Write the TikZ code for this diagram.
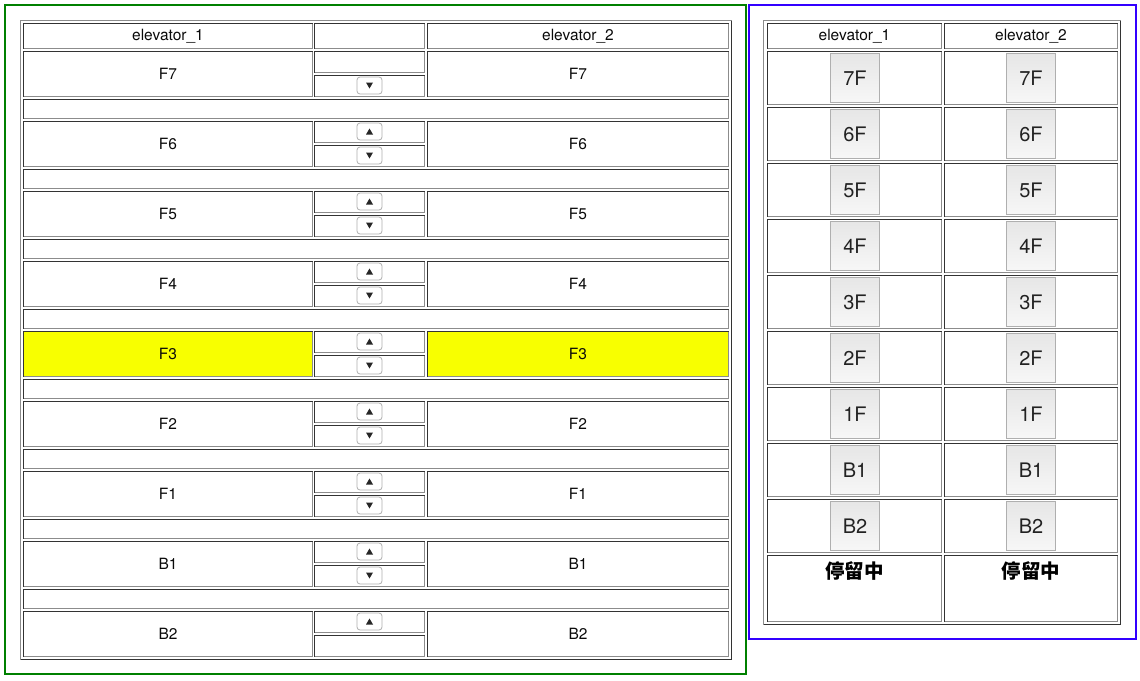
\documentclass[tikz,border=0pt]{standalone}
\usepackage{fontspec}
\setmainfont{TeX Gyre Heros}
\newfontfamily\cjk{Noto Sans CJK SC}
\definecolor{greenbox}{RGB}{0,128,0}
\definecolor{bluebox}{RGB}{51,0,255}
\definecolor{hl}{RGB}{248,255,0}
\definecolor{cdark}{RGB}{51,51,51}
\definecolor{clight}{RGB}{140,140,140}
\definecolor{btnborder}{RGB}{175,175,175}
\definecolor{btntop}{RGB}{230,230,230}
\definecolor{btnbot}{RGB}{247,247,247}
\definecolor{txt}{RGB}{10,10,10}
\tikzset{
  lbl/.style={inner sep=0pt, text=txt, font=\fontsize{15.5}{18}\selectfont},
  btnlbl/.style={inner sep=0pt, text=txt!90!white, font=\fontsize{20}{22}\selectfont},
  stat/.style={inner sep=0pt, text=black, font=\cjk\bfseries\fontsize{19.5}{22}\selectfont},
  smallbtn/.style={draw=btnborder, fill=white, line width=0.8pt, rounded corners=3pt},
  bigbtn/.style={draw=btnborder, line width=1pt, top color=btntop, bottom color=btnbot},
  tri/.style={fill=black!85},
}
% cell with inset border: x1 y1 x2 y2 fill
\newcommand\cellrect[5]{%
  \fill[#5] (#1,#2) rectangle (#3,#4);
  \draw[cdark, line width=1pt] (#1,#4) -- (#1,#2) -- (#3,#2);
  \draw[clight, line width=1pt] (#3,#2) -- (#3,#4) -- (#1,#4);
}
% table with outset border
\newcommand\tablerect[4]{%
  \draw[clight, line width=1pt] (#1,#4) -- (#1,#2) -- (#3,#2);
  \draw[cdark, line width=1pt] (#3,#2) -- (#3,#4) -- (#1,#4);
}
% small up/down buttons: center x, top y, bottom y
\newcommand\upbtn[3]{%
  \draw[smallbtn] ({#1-12.5},#2) rectangle ({#1+12.5},#3);
  \fill[tri] ({#1-3.5},{(#2+#3)/2+3}) -- ({#1+3.5},{(#2+#3)/2+3}) -- (#1,{(#2+#3)/2-3}) -- cycle;
}
\newcommand\downbtn[3]{%
  \draw[smallbtn] ({#1-12.5},#2) rectangle ({#1+12.5},#3);
  \fill[tri] ({#1-3.5},{(#2+#3)/2-3}) -- ({#1+3.5},{(#2+#3)/2-3}) -- (#1,{(#2+#3)/2+3}) -- cycle;
}
\begin{document}
\begin{tikzpicture}[x=1pt,y=-1pt]
\useasboundingbox[fill=white] (0,0) rectangle (1140,680);

% frames
\draw[greenbox, line width=2pt] (5,5) rectangle (746,674);
\draw[bluebox, line width=2pt] (749,5) rectangle (1136,639);

% ================= left table =================
\tablerect{20.5}{20.5}{731.5}{659.5}
\cellrect{23.5}{23.5}{312.5}{48.5}{white}
\cellrect{314.5}{23.5}{424.5}{48.5}{white}
\cellrect{427.5}{23.5}{728.5}{48.5}{white}
\node[lbl] (lh1) at (168,36) {elevator\_1};
\node[lbl] (lh3) at (578,36) {elevator\_2};

\foreach \lab [count=\n from 0] in {F7,F6,F5,F4,F3,F2,F1,B1,B2} {
  \pgfmathsetmacro\t{51.5+70*\n}
  \pgfmathsetmacro\b{\t+45}
  \pgfmathsetmacro\m{\t+22.5}
  \pgfmathsetmacro\sa{\t+21}
  \pgfmathsetmacro\sb{\t+24}
  \ifnum\n=4 \def\fc{hl}\else\def\fc{white}\fi
  \cellrect{23.5}{\t}{312.5}{\b}{\fc}
  \cellrect{427.5}{\t}{728.5}{\b}{\fc}
  \cellrect{314.5}{\t}{424.5}{\sa}{white}
  \cellrect{314.5}{\sb}{424.5}{\b}{white}
  \node[lbl] (la-\lab) at (168,\m) {\lab};
  \node[lbl] (lb-\lab) at (578,\m) {\lab};
  \ifnum\n>0 \upbtn{369.5}{\t+1.5}{\t+18.5}\fi
  \ifnum\n<8 \downbtn{369.5}{\t+25.5}{\t+42.5}\fi
}
\foreach \n in {0,...,7} {
  \pgfmathsetmacro\t{99.5+70*\n}
  \cellrect{23.5}{\t}{728.5}{\t+19}{white}
}

% ================= right table =================
\tablerect{763.5}{20.5}{1120.5}{624.5}
\cellrect{767.5}{23.5}{941.5}{48.5}{white}
\cellrect{944.5}{23.5}{1117.5}{48.5}{white}
\node[lbl] (rh1) at (854.5,36) {elevator\_1};
\node[lbl] (rh2) at (1031,36) {elevator\_2};

\foreach \lab [count=\n from 0] in {7F,6F,5F,4F,3F,2F,1F,B1,B2} {
  \pgfmathsetmacro\t{51.5+56*\n}
  \pgfmathsetmacro\b{\t+53}
  \pgfmathsetmacro\m{\t+26.5}
  \cellrect{767.5}{\t}{941.5}{\b}{white}
  \cellrect{944.5}{\t}{1117.5}{\b}{white}
  \draw[bigbtn] (830.5,\t+2) rectangle (879.5,\t+51);
  \draw[bigbtn] (1006.5,\t+2) rectangle (1055.5,\t+51);
  \node[btnlbl] (ra-\lab) at (855,\m) {\lab};
  \node[btnlbl] (rb-\lab) at (1031,\m) {\lab};
}
\cellrect{767.5}{555.5}{941.5}{621.5}{white}
\cellrect{944.5}{555.5}{1117.5}{621.5}{white}
\node[stat] (s1) at (854.5,571) {停留中};
\node[stat] (s2) at (1031,571) {停留中};
\end{tikzpicture}
\end{document}
